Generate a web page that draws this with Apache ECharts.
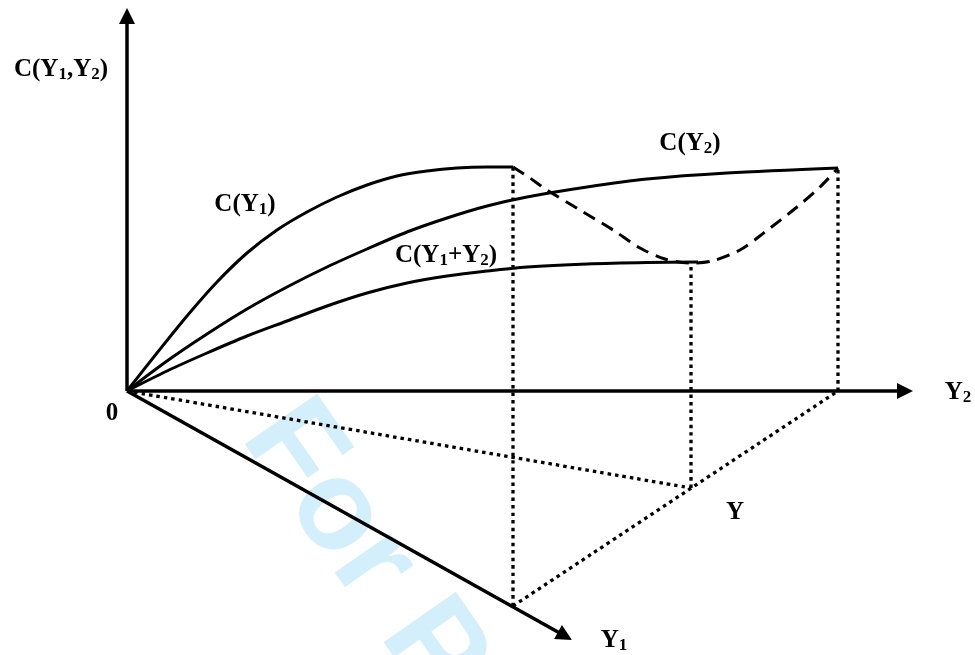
<!DOCTYPE html>
<html>
<head>
<meta charset="utf-8">
<script src="https://cdn.jsdelivr.net/npm/echarts@6/dist/echarts.min.js"></script>
<style>
html, body { margin: 0; padding: 0; background: #fff; }
#main { width: 975px; height: 655px; }
</style>
</head>
<body>
<div id="main"></div>
<script>
// cost curves (x along Y2 axis, y = cost)
const cY1 = [[0,0],[30,38],[60,75],[90,109],[120,138],[150,161],[180,179],[210,194],[240,206],[270,215],[300,220],[330,223],[360,224],[386,224]];
const cY2 = [[0,0],[40,30],[80,57],[120,82],[160,104],[200,124],[240,142],[280,159],[320,173],[360,185],[400,194],[460,204],[520,212],[600,218],[711,223]];
const cY1Y2 = [[0,0],[40,20],[80,38],[120,55],[160,70],[200,85],[240,98],[280,108],[320,115],[360,120],[400,124],[460,127],[520,128.5],[571,129]];
// dashed curve joining C(Y1) end and C(Y2) end through C(Y1+Y2)
const rayCost = [[386,224],[403,213],[420,201],[453,181],[486,161],[513,143],[538,132],[563,128],[585,130],[613,141],[638,159],[670,184],[693,204],[711,223]];

// floor points: Y1 on its axis, Y2 on its axis, Y on the chord
const ptY1 = [386,-215];
const ptY2 = [711,0];
const ptY = [564,-97];

// axes
const axisCost = [[0,0],[0,375]];
const axisY2 = [[0,0],[778,0]];
const axisY1 = [[0,0],[438,-245]];

const dotted = { color: '#000', width: 3.3, type: [3.5, 4], cap: 'butt' };
const solid = { color: '#000', width: 3 };

function curve(data, style) {
  return { type: 'line', data: data, smooth: 0.3, showSymbol: false, lineStyle: style, silent: true };
}

const serif = 'Liberation Serif, Times New Roman, serif';
const rich = {
  m: { fontFamily: serif, fontWeight: 'bold', fontSize: 25, lineHeight: 26, fill: '#000' },
  s: { fontFamily: serif, fontWeight: 'bold', fontSize: 17, lineHeight: 17, verticalAlign: 'bottom', fill: '#000' }
};
function label(x, y, text) {
  return {
    type: 'text', x: x, y: y, z: 100,
    style: { text: text, rich: rich, align: 'center', verticalAlign: 'middle' }
  };
}

var myChart = echarts.init(document.getElementById('main'));
var option = {
  animation: false,
  backgroundColor: '#fff',
  grid: { left: 0, right: 0, top: 0, bottom: 0 },
  xAxis: { type: 'value', min: -127, max: 848, show: false },
  yAxis: { type: 'value', min: -264, max: 391, show: false },
  graphic: [
    {
      type: 'text', x: 269, y: 417, z: -10, rotation: -55 * Math.PI / 180,
      style: { text: 'For Peer Review', font: 'bold 128px "Liberation Sans", Arial, sans-serif', fill: '#d4effc', align: 'left', verticalAlign: 'middle' }
    },
    label(61, 70, '{m|C(Y}{s|1}{m|,Y}{s|2}{m|)}'),
    label(245, 205, '{m|C(Y}{s|1}{m|)}'),
    label(690, 144, '{m|C(Y}{s|2}{m|)}'),
    label(446, 256, '{m|C(Y}{s|1}{m|+Y}{s|2}{m|)}'),
    label(112, 414, '{m|0}'),
    label(958, 393, '{m|Y}{s|2}'),
    label(735, 513, '{m|Y}'),
    label(614, 641, '{m|Y}{s|1}')
  ],
  series: [
    {
      type: 'lines', coordinateSystem: 'cartesian2d', silent: true,
      symbol: ['none', 'triangle'], symbolSize: 16,
      lineStyle: { color: '#000', width: 3.5, opacity: 1, curveness: 0 },
      data: [{ coords: axisCost }, { coords: axisY2 }, { coords: axisY1 }]
    },
    curve(cY1, solid),
    curve(cY2, solid),
    curve(cY1Y2, solid),
    curve(rayCost, { color: '#000', width: 3, type: [13, 8] }),
    curve([ptY1, [ptY1[0], cY1[cY1.length - 1][1]]], dotted),
    curve([ptY, [ptY[0], cY1Y2[cY1Y2.length - 1][1]]], dotted),
    curve([ptY2, [ptY2[0], cY2[cY2.length - 1][1]]], dotted),
    curve([[0,0], ptY], dotted),
    curve([ptY1, ptY2], dotted)
  ]
};
option && myChart.setOption(option);
</script>
</body>
</html>
